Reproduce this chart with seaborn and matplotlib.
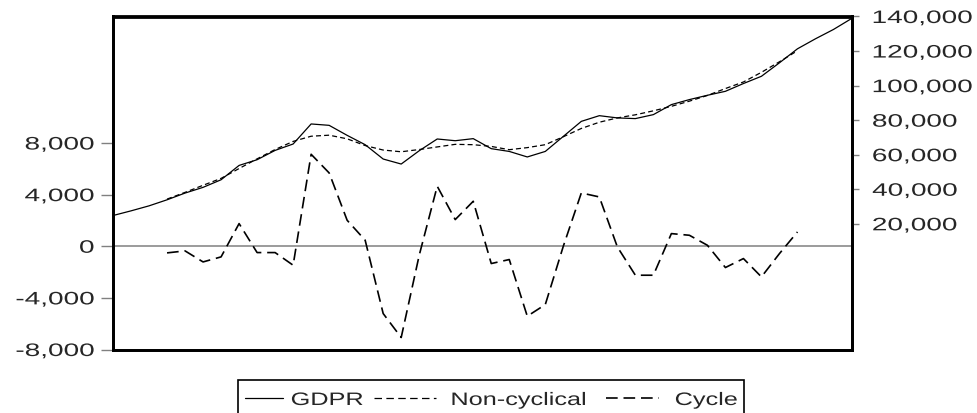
import matplotlib
matplotlib.use("Agg")
import matplotlib.pyplot as plt
import seaborn as sns
from matplotlib.ticker import FuncFormatter, FixedLocator
from matplotlib.patheffects import AbstractPathEffect
from matplotlib.transforms import Affine2D
from matplotlib.lines import Line2D
from matplotlib.patches import Rectangle

# observation index (no dates shown on the chart)
obs = list(range(42))

# GDPR, right axis
gdpr = [24800, 27500, 30400, 33900, 37800, 41100, 45500, 53800, 57100, 62500,
        66200, 77800, 77000, 71200, 65800, 57500, 54600, 62300, 69100, 68100,
        69300, 63500, 61900, 58700, 61900, 70600, 79300, 82600, 81300, 80900,
        83200, 89000, 91900, 94400, 96700, 101200, 105400, 113200, 121300, 127100,
        132500, 138800]

# filtered series only exist for obs 3..38
filt_obs = list(range(3, 39))
noncyc = [34300, 38200, 42300, 46300, 52000, 57600, 63000, 67700, 70700, 71300,
          69200, 65300, 62700, 61700, 63000, 64500, 66000, 65800, 64800, 62900,
          64100, 65800, 70400, 75200, 78800, 81300, 83100, 85400, 88000, 91000,
          94300, 98300, 102100, 107700, 113800, 120200]

# Cycle, left axis
cycle = [-515, -360, -1215, -825, 1755, -490, -490, -1470, 7125, 5680,
         2010, 465, -5215, -7070, -700, 4650, 2065, 3485, -1340, -1030,
         -5420, -4520, 0, 4130, 3820, -50, -2245, -2245, 980, 850,
         75, -1650, -955, -2375, -570, 1110]

left_ticks = [-8000, -4000, 0, 4000, 8000]
right_ticks = [20000, 40000, 60000, 80000, 100000, 120000, 140000]
labels = ["GDPR", "Non-cyclical", "Cycle"]

W, H = 977, 413
FS = 13
SX = 1.55      # tick labels are drawn wide in the original
SX_LEG = 1.4   # legend text a bit less so


class Stretch(AbstractPathEffect):
    """Stretch text glyphs horizontally around one end."""
    def __init__(self, sx, anchor="left"):
        super().__init__()
        self.sx = sx
        self.anchor = anchor

    def draw_path(self, renderer, gc, tpath, affine, rgbFace=None):
        ext = tpath.get_extents()
        x0 = ext.x1 if self.anchor == "right" else ext.x0
        t = Affine2D().translate(-x0, 0).scale(self.sx, 1).translate(x0, 0) + affine
        renderer.draw_path(gc, tpath, t, rgbFace)


def fx(x):
    return x / W


def fy(y):
    return 1 - y / H


sns.set_theme(style="white")
plt.rcParams['font.family'] = ['Liberation Sans', 'DejaVu Sans']

fig = plt.figure(figsize=(W / 100, H / 100), dpi=100)
ax = fig.add_axes([fx(113), fy(349.5), fx(851.5) - fx(113), fy(16.5) - fy(349.5)])
ax2 = ax.twinx()

# zero line for the cycle
ax.axhline(0, color="#808080", lw=1.1, zorder=1)

sns.lineplot(x=filt_obs, y=cycle, ax=ax, color="black", lw=1.2, legend=False)
cyc_line = ax.lines[-1]
cyc_line.set_dashes((7, 3.5))

sns.lineplot(x=obs, y=gdpr, ax=ax2, color="black", lw=0.9, legend=False)
gdp_line = ax2.lines[-1]
sns.lineplot(x=filt_obs, y=noncyc, ax=ax2, color="black", lw=0.9, legend=False)
trend_line = ax2.lines[-1]
trend_line.set_dashes((4, 2.5))

ax.set_xlim(0, 41)
ax.set_ylim(-8000, 17800)
ax2.set_ylim(-52750, 140000)
ax.set_xticks([])
ax.set_xlabel("")
ax.set_ylabel("")
ax2.set_ylabel("")

fmt = FuncFormatter(lambda v, pos: f"{int(v):,}")
ax.yaxis.set_major_locator(FixedLocator(left_ticks))
ax.yaxis.set_major_formatter(fmt)
ax2.yaxis.set_major_locator(FixedLocator(right_ticks))
ax2.yaxis.set_major_formatter(fmt)

ax.tick_params(axis="y", direction="out", length=8.5, width=1, color="#808080",
               pad=5, labelsize=FS, left=True)
ax2.tick_params(axis="y", direction="out", length=5, width=1, color="#808080",
                pad=10, labelsize=FS, right=True)

for t in ax.yaxis.get_major_ticks():
    t.label1.set_path_effects([Stretch(SX, "right")])
for t in ax2.yaxis.get_major_ticks():
    t.label2.set_path_effects([Stretch(SX, "left")])

for a in (ax, ax2):
    for s in a.spines.values():
        s.set_color("black")
        s.set_linewidth(2)

# legend box along the bottom, cut by the figure edge as in the original
fig.add_artist(Rectangle((fx(238), fy(430)), fx(744) - fx(238), fy(380) - fy(430),
                         transform=fig.transFigure, fill=False, ec="black", lw=1.2))
handle_x = [(245, 283), (374, 436), (606, 659)]
handle_dash = [None, (6, 3.5), (7, 3.5)]
text_x = [291, 451, 675]
for (x0, x1), dash, tx, src, lab in zip(handle_x, handle_dash, text_x,
                                        [gdp_line, trend_line, cyc_line], labels):
    ln = Line2D([fx(x0), fx(x1)], [fy(398), fy(398)], transform=fig.transFigure,
                color="black", lw=src.get_linewidth())
    if dash is not None:
        ln.set_dashes(dash)
    fig.add_artist(ln)
    fig.text(fx(tx), fy(405), lab, fontsize=FS, ha="left", va="baseline",
             path_effects=[Stretch(SX_LEG, "left")])

fig.savefig("out.png", dpi=100)
